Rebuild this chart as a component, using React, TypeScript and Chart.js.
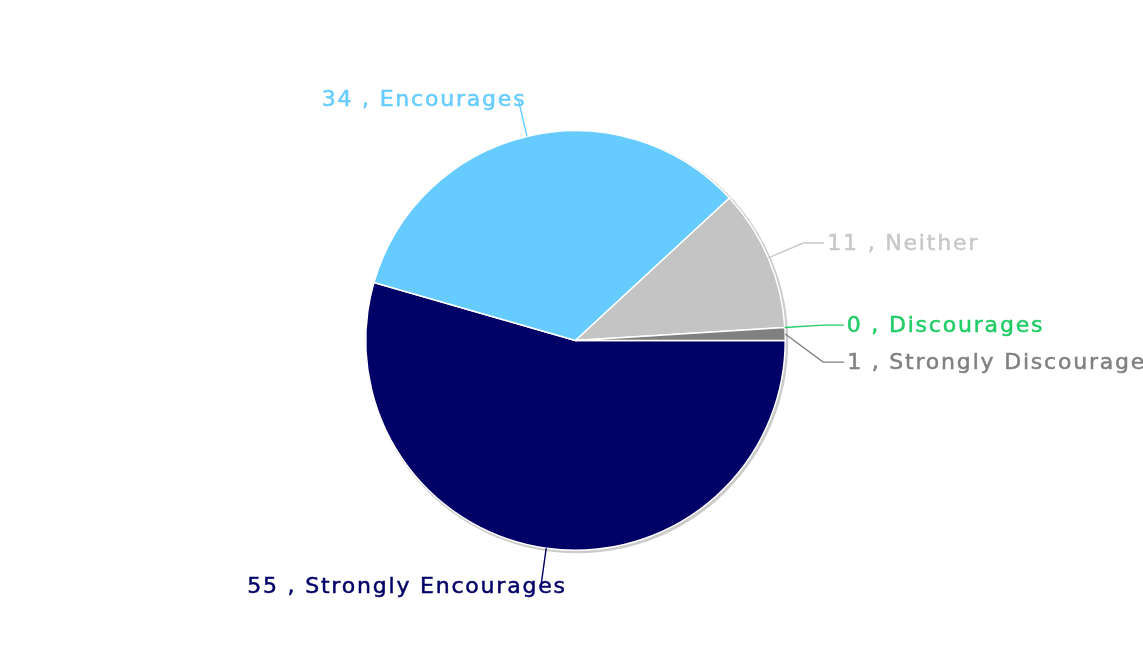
import React, { useEffect, useRef } from 'react';
import { Chart, registerables } from 'chart.js';

Chart.register(...registerables);

// ---- data ----
const categories = ['Strongly Encourages', 'Encourages', 'Neither', 'Discourages', 'Strongly Discourages'];
const values = [55, 34, 11, 0, 1];
const sliceColors = ['#000066', '#66CCFF', '#C4C4C4', '#33CC66', '#808080'];
const labelColors = ['#000066', '#66CCFF', '#C8C8C8', '#22CC66', '#808080'];

const LABEL_FONT = '22px "DejaVu Sans", Verdana, sans-serif';

const shadowPlugin = {
  id: 'pieShadow',
  beforeDatasetsDraw(chart: any) {
    const arc = chart.getDatasetMeta(0).data[0];
    if (!arc) return;
    const p = arc.getProps(['x', 'y', 'outerRadius'], true);
    const ctx = chart.ctx;
    ctx.save();
    ctx.beginPath();
    ctx.arc(p.x + 1.5, p.y + 1.5, p.outerRadius + 1.5, 0, Math.PI * 2);
    ctx.fillStyle = '#cccccc';
    ctx.fill();
    ctx.restore();
  },
};

const labelPlugin = {
  id: 'leaderLabels',
  afterDatasetsDraw(chart: any) {
    const meta = chart.getDatasetMeta(0);
    const ctx = chart.ctx;
    const ext = 38;
    const hseg = 21;
    const gap = 3;
    const minGap = 37;
    const items = meta.data.map((el: any, i: number) => {
      const p = el.getProps(['x', 'y', 'startAngle', 'endAngle', 'outerRadius'], true);
      const mid = (p.startAngle + p.endAngle) / 2;
      const c = Math.cos(mid);
      const s = Math.sin(mid);
      return {
        i,
        s,
        ax: p.x + p.outerRadius * c,
        ay: p.y + p.outerRadius * s,
        ex: p.x + (p.outerRadius + ext) * c,
        ey: p.y + (p.outerRadius + ext) * s,
        right: c > 0,
      };
    });
    const right = items.filter((d: any) => d.right).sort((a: any, b: any) => a.ey - b.ey);
    for (let k = 1; k < right.length; k++) {
      if (right[k].ey - right[k - 1].ey < minGap) right[k].ey = right[k - 1].ey + minGap;
    }
    ctx.save();
    ctx.font = LABEL_FONT;
    (ctx as any).letterSpacing = '1.8px';
    ctx.textBaseline = 'middle';
    items.forEach((d: any) => {
      const text = `${values[d.i]} , ${categories[d.i]}`;
      ctx.strokeStyle = labelColors[d.i];
      ctx.fillStyle = labelColors[d.i];
      ctx.lineWidth = 1.4;
      ctx.beginPath();
      ctx.moveTo(d.ax, d.ay);
      ctx.lineTo(d.ex, d.ey);
      let tx: number;
      if (d.right) {
        ctx.lineTo(d.ex + hseg, d.ey);
        ctx.stroke();
        ctx.textAlign = 'left';
        tx = d.ex + hseg + gap;
      } else {
        ctx.stroke();
        ctx.textAlign = 'right';
        tx = d.ex + 17 + 9 * d.s;
      }
      ctx.fillText(text, tx, d.ey + 1);
      ctx.lineWidth = 0.5;
      ctx.strokeText(text, tx, d.ey + 1);
    });
    ctx.restore();
  },
};

export default function App() {
  const ref = useRef<HTMLCanvasElement>(null);
  useEffect(() => {
    if (!ref.current) return;
    const chart = new Chart(ref.current, {
      type: 'pie',
      data: {
        labels: categories,
        datasets: [
          {
            data: values,
            backgroundColor: sliceColors,
            borderColor: '#ffffff',
            borderWidth: 1.5,
          },
        ],
      },
      options: {
        responsive: false,
        animation: false,
        rotation: 90,
        layout: { padding: { top: 130, bottom: 118, left: 365, right: 357 } },
        plugins: {
          legend: { display: false },
          tooltip: { enabled: false },
        },
      },
      plugins: [shadowPlugin, labelPlugin],
    } as any);
    return () => chart.destroy();
  }, []);
  return (
    <div style={{ position: 'fixed', left: 0, top: 0, width: 1143, height: 669, background: '#ffffff' }}>
      <canvas ref={ref} width={1143} height={669} />
    </div>
  );
}
